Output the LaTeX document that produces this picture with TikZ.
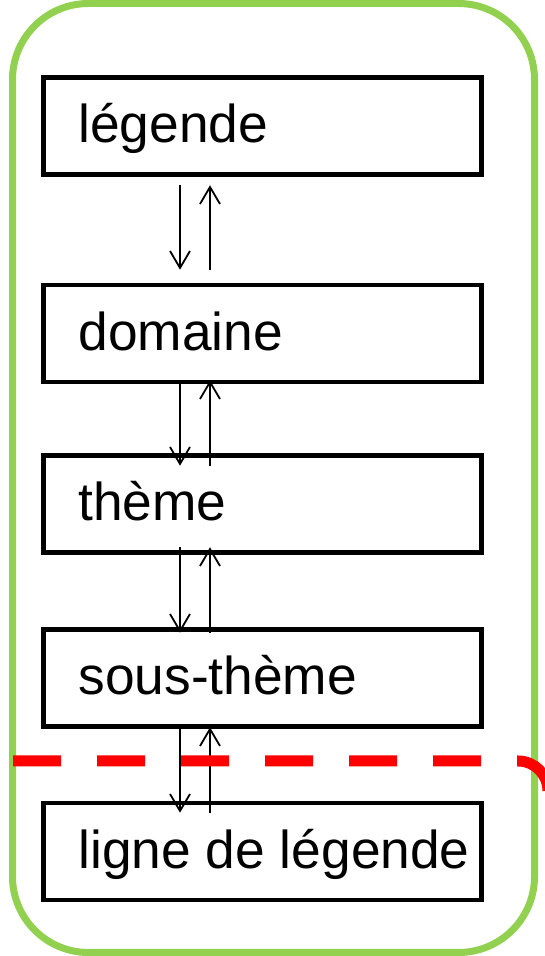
\documentclass[tikz,border=0pt]{standalone}
\usepackage{fontspec}
\setmainfont{Liberation Sans}
\usetikzlibrary{arrows.meta}
\definecolor{framegreen}{HTML}{92D050}
\newcommand{\boxtext}[1]{\makebox[438pt][l]{\hspace*{35pt}#1}}
\tikzset{
  box/.style={draw, line width=4.5pt, minimum width=438pt, minimum height=97pt,
    inner sep=0pt, text height=38pt, text depth=4pt,
    font=\fontsize{53.3}{60}\selectfont},
  arr/.style={line width=1.8pt, -{Straight Barb[length=17pt,width=20pt,line width=1.8pt]}},
  frame/.style={draw=framegreen, line width=7pt, rounded corners=76pt},
  cut/.style={draw=red, line width=11pt, dash pattern=on 48pt off 36pt}
}
\begin{document}
\begin{tikzpicture}[x=1pt,y=1pt]
\useasboundingbox (0,0) rectangle (545,956);
\clip (0,0) rectangle (545,956);
\draw[frame] (12.5,3.5) rectangle (534.5,952.5);
\node[box] (b1) at (262.5,830) {\boxtext{légende}};
\node[box] (b2) at (262.5,622.5) {\boxtext{domaine}};
\node[box] (b3) at (262.5,452) {\boxtext{thème}};
\node[box] (b4) at (262.5,278) {\boxtext{sous-thème}};
\node[box] (b5) at (262.5,104.5) {\boxtext{ligne de légende}};
% pair 1
\draw[arr] ([xshift=-82.5pt,yshift=-8.5pt]b1.south) -- ([xshift=-82.5pt,yshift=13pt]b2.north);
\draw[arr] ([xshift=-52.5pt,yshift=13pt]b2.north) -- ([xshift=-52.5pt,yshift=-8.5pt]b1.south);
% pair 2
\draw[arr] ([xshift=-82.5pt,yshift=4pt]b2.south) -- ([xshift=-82.5pt,yshift=-12.5pt]b3.north);
\draw[arr] ([xshift=-52.5pt,yshift=-12.5pt]b3.north) -- ([xshift=-52.5pt,yshift=4pt]b2.south);
% pair 3
\draw[arr] ([xshift=-82.5pt,yshift=7.5pt]b3.south) -- ([xshift=-82.5pt,yshift=-5.5pt]b4.north);
\draw[arr] ([xshift=-52.5pt,yshift=-5.5pt]b4.north) -- ([xshift=-52.5pt,yshift=7.5pt]b3.south);
% pair 4
\draw[arr] ([xshift=-82.5pt,yshift=1.5pt]b4.south) -- ([xshift=-82.5pt,yshift=-12pt]b5.north);
\draw[arr] ([xshift=-52.5pt,yshift=-12pt]b5.north) -- ([xshift=-52.5pt,yshift=1.5pt]b4.south);
% red cut line
\coordinate (cutstart) at (13,195);
\coordinate (cutbend) at (518,195);
\draw[cut] (cutstart) -- (cutbend) arc[start angle=90,end angle=0,radius=30];
\end{tikzpicture}
\end{document}
